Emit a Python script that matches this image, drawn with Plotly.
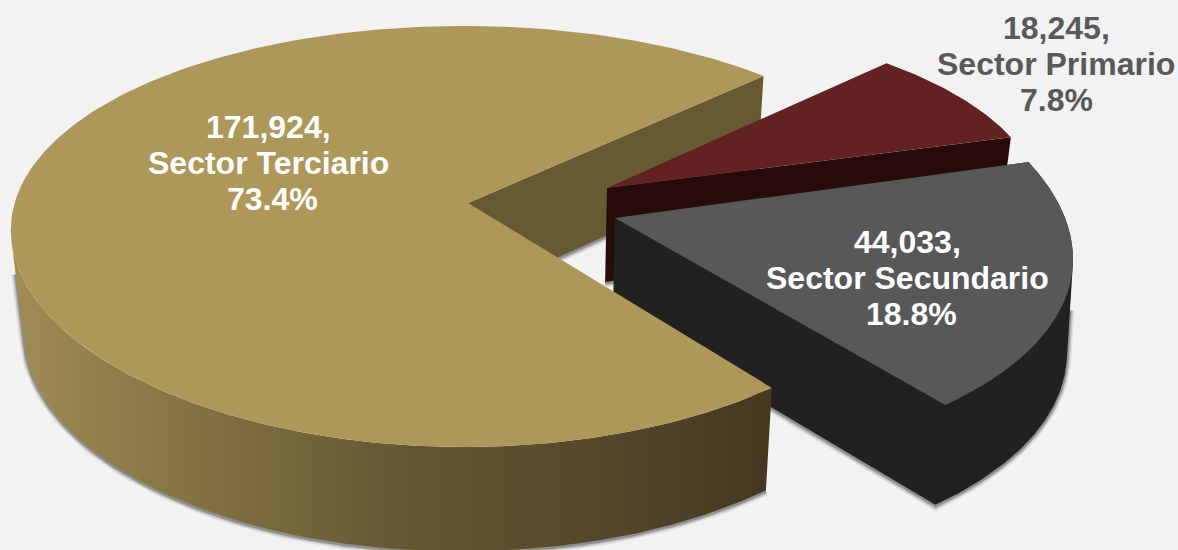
import numpy as np
import plotly.graph_objects as go

# ---- data ----
sectors = ["Sector Terciario", "Sector Primario", "Sector Secundario"]
values = [171924, 18245, 44033]
percents = ["73.4%", "7.8%", "18.8%"]

# ---- styling / projection of the 3-D pie ----
BG = "#f2f2f2"
TOP = ["#ad9859", "#622222", "#585858"]
WALL = ["#675a33", "#270b0b", "#212121"]
TEXT = ["#ffffff", "#595959", "#ffffff"]
FONT = "Liberation Sans"
# ellipse of each exploded slice: centre, half-axes, perspective, apex
DISC = [
    dict(cx=464, cy=236.5, a=453, b=210.5, k=-0.03, apex=(468, 203)),
    dict(cx=602, cy=206.6, a=440, b=188, k=0.0, apex=(607, 188)),
    dict(cx=607, cy=244.5, a=465, b=223, k=0.066, apex=(615, 218)),
]
LABEL_POS = [(268, 126.5), (1056, 27.5), (907, 241.5)]
PCT_DX = [4, 0, 4.5]
LINE_STEP = 36.2
START_DEG = 46.0

total = sum(values)
sweeps = [360.0 * v / total for v in values]
starts = [START_DEG + sum(sweeps[:i]) for i in range(len(values))]


def rim(d, t):
    r = np.radians(t)
    return (d["cx"] + d["a"] * np.cos(r) * (1 + d["k"] * np.sin(r)),
            d["cy"] + d["b"] * np.sin(r))


def drop(x, y):
    """Lower face of the extrusion."""
    x = np.asarray(x, float)
    y = np.asarray(y, float)
    return 532 + 0.975 * (x - 532), y + 89 + 0.027 * y


fig = go.Figure()


def poly(x, y, color, gradient=None):
    kw = dict(fillgradient=gradient) if gradient else dict(fillcolor=color)
    fig.add_trace(go.Scatter(x=list(x), y=list(y), mode="lines", fill="toself",
                             line=dict(width=0, color=color), hoverinfo="skip",
                             showlegend=False, **kw))


def shadow(x, y):
    for w, al in [(9, 0.08), (6, 0.14), (3, 0.25)]:
        fig.add_trace(go.Scatter(x=list(x), y=list(np.asarray(y) + 1), mode="lines",
                                 line=dict(width=w, color=f"rgba(0,0,0,{al})"),
                                 hoverinfo="skip", showlegend=False))


# --- tan: inner wall (behind the other slices)
d = DISC[0]
ax, ay = d["apex"]
t_end = starts[0] + sweeps[0]
cx0, cy0 = rim(d, t_end)
qx, qy = drop([ax, cx0], [ay, cy0])
shadow(qx, qy)
poly([ax, cx0, qx[1], qx[0]], [ay, cy0, qy[1], qy[0]], WALL[0])

# --- red slice
d = DISC[1]
ax, ay = d["apex"]
t = np.linspace(starts[1], starts[1] + sweeps[1], 60)
rx, ry = rim(d, t)
ex, ey = drop([ax, rx[-1]], [ay, ry[-1]])
shadow(ex, ey)
poly([ax, rx[-1], ex[1], ex[0]], [ay, ry[-1], ey[1], ey[0]], WALL[1])
poly([ax, *rx], [ay, *ry], TOP[1])

# --- gray slice
d = DISC[2]
ax, ay = d["apex"]
t = np.linspace(starts[2], starts[2] + sweeps[2], 120)
rx, ry = rim(d, t)
bx = rx - 6 - (ry - 260) * 0.0276
by = drop(rx, ry)[1]
apx, apy = drop([ax], [ay])
vis = t >= 365.0
shadow([apx[0], *bx[vis][::-1], rx[vis][0] - 3], [apy[0], *by[vis][::-1], ry[vis][0] + 45])
poly([ax, apx[0], *bx[vis][::-1], *rx[vis][:1], *rx[~vis][::-1]],
     [ay, apy[0], *by[vis][::-1], *ry[vis][:1], *ry[~vis][::-1]], WALL[2])
poly([ax, *rx], [ay, *ry], TOP[2])

# --- tan: outer wall and top
d = DISC[0]
ax, ay = d["apex"]
t_all = np.linspace(starts[0], t_end, 300)
rx, ry = rim(d, t_all)
front = t_all <= 180.0
bx, by = drop(rx[front], ry[front])
by = by + 3 + 5 * np.clip(-np.cos(np.radians(t_all[front])), 0, 1)
lx, ly = rim(d, np.array([180.0]))
shadow([*bx, 0.35 * bx[-1] + 0.65 * lx[0]], [*by, 0.35 * by[-1] + 0.65 * ly[0]])
gradient = dict(type="horizontal", colorscale=[
    [0.0, "#a08c55"], [0.16, "#8c7b48"], [0.5, "#665833"], [0.78, "#54472a"], [1.0, "#433820"]])
poly([*bx, *rx[front][::-1]], [*by, *ry[front][::-1]], WALL[0], gradient=gradient)
poly([ax, *rx], [ay, *ry], TOP[0])

# --- labels
for i, (px, py) in enumerate(LABEL_POS):
    lines = [f"{values[i]:,},", sectors[i], percents[i]]
    for j, line in enumerate(lines):
        fig.add_annotation(x=px + (PCT_DX[i] if j == 2 else 0), y=py + j * LINE_STEP,
                           text=f"<b>{line}</b>", showarrow=False,
                           xanchor="center", yanchor="middle",
                           font=dict(family=FONT, size=32, color=TEXT[i]))

fig.update_xaxes(visible=False, range=[0, 1178], fixedrange=True)
fig.update_yaxes(visible=False, range=[550, 0], fixedrange=True)
fig.update_layout(width=1178, height=550, margin=dict(l=0, r=0, t=0, b=0),
                  paper_bgcolor=BG, plot_bgcolor=BG, showlegend=False)
fig.write_html("out.html", config=dict(displayModeBar=False),
               post_script="document.body.style.margin='0';document.body.style.overflow='hidden';")
